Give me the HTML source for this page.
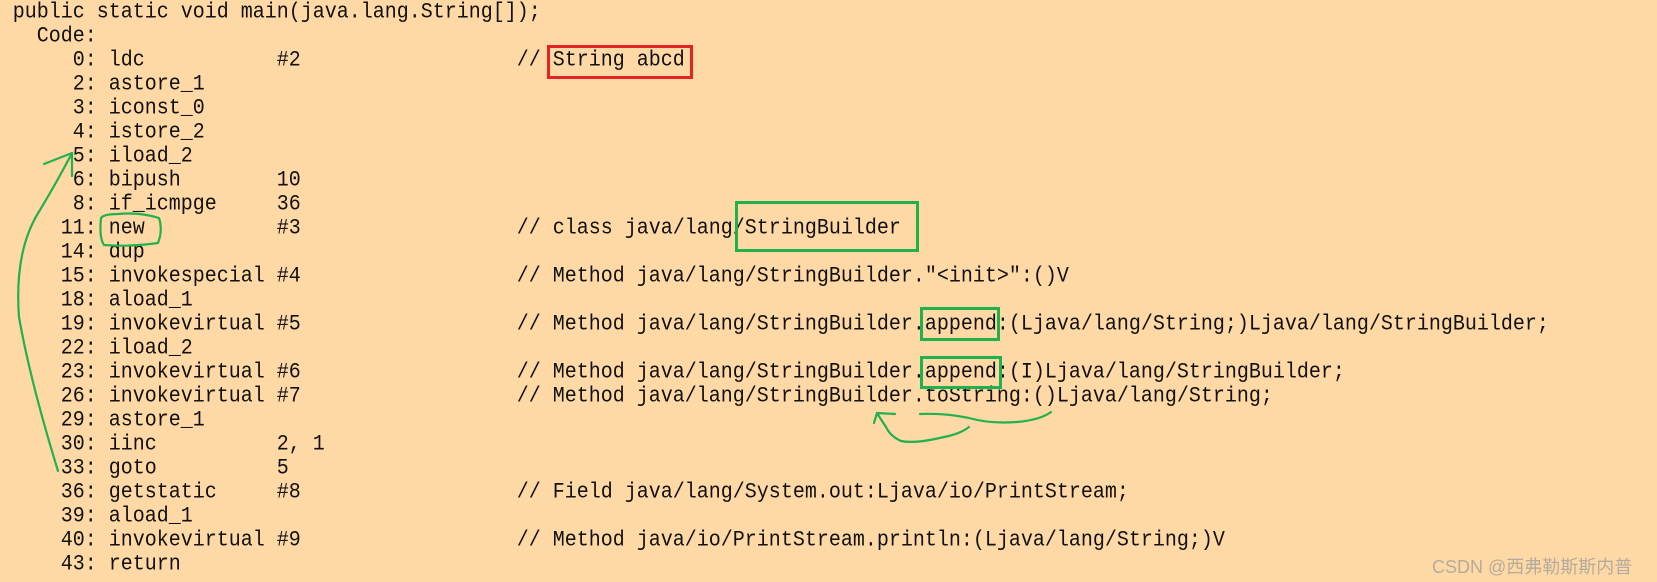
<!DOCTYPE html>
<html><head><meta charset="utf-8"><style>
html,body{margin:0;padding:0}
body{width:1657px;height:582px;background:#fed9a6;position:relative;overflow:hidden}
.l{position:absolute;left:12.7px;height:24px;line-height:24px;font-family:"Liberation Mono",monospace;font-size:20px;white-space:pre;color:#111;transform:scaleY(1.12);transform-origin:left center}
.b{position:absolute;box-sizing:border-box}
</style></head><body>
<div class="l" style="top:1px">public static void main(java.lang.String[]);</div>
<div class="l" style="top:25px">  Code:</div>
<div class="l" style="top:49px">     0: ldc           #2                  // String abcd</div>
<div class="l" style="top:73px">     2: astore_1</div>
<div class="l" style="top:97px">     3: iconst_0</div>
<div class="l" style="top:121px">     4: istore_2</div>
<div class="l" style="top:145px">     5: iload_2</div>
<div class="l" style="top:169px">     6: bipush        10</div>
<div class="l" style="top:193px">     8: if_icmpge     36</div>
<div class="l" style="top:217px">    11: new           #3                  // class java/lang/StringBuilder</div>
<div class="l" style="top:241px">    14: dup</div>
<div class="l" style="top:265px">    15: invokespecial #4                  // Method java/lang/StringBuilder."&lt;init&gt;":()V</div>
<div class="l" style="top:289px">    18: aload_1</div>
<div class="l" style="top:313px">    19: invokevirtual #5                  // Method java/lang/StringBuilder.append:(Ljava/lang/String;)Ljava/lang/StringBuilder;</div>
<div class="l" style="top:337px">    22: iload_2</div>
<div class="l" style="top:361px">    23: invokevirtual #6                  // Method java/lang/StringBuilder.append:(I)Ljava/lang/StringBuilder;</div>
<div class="l" style="top:385px">    26: invokevirtual #7                  // Method java/lang/StringBuilder.toString:()Ljava/lang/String;</div>
<div class="l" style="top:409px">    29: astore_1</div>
<div class="l" style="top:433px">    30: iinc          2, 1</div>
<div class="l" style="top:457px">    33: goto          5</div>
<div class="l" style="top:481px">    36: getstatic     #8                  // Field java/lang/System.out:Ljava/io/PrintStream;</div>
<div class="l" style="top:505px">    39: aload_1</div>
<div class="l" style="top:529px">    40: invokevirtual #9                  // Method java/io/PrintStream.println:(Ljava/lang/String;)V</div>
<div class="l" style="top:553px">    43: return</div>

<div class="b" style="left:547px;top:45px;width:146px;height:34px;border:3px solid #e42424"></div>
<div class="b" style="left:735px;top:201px;width:184px;height:51px;border:3px solid #1fb14a"></div>
<div class="b" style="left:920px;top:307px;width:80px;height:34px;border:3px solid #1fb14a"></div>
<div class="b" style="left:920px;top:356px;width:82px;height:33px;border:3px solid #1fb14a"></div>

<svg width="1657" height="582" style="position:absolute;left:0;top:0" fill="none" stroke="#22b14c" stroke-width="2.2" stroke-linecap="round" stroke-linejoin="round">
<path d="M101 218 Q99 238 104 245 Q130 247 158 243 Q163 230 159 218 Q140 212 118 214 Q104 214 101 218"/>
<path d="M58 471 Q30 380 19 317 Q14 250 40 210 Q58 180 72 153"/>
<path d="M44 164 L72 153 L72 176"/>
<path d="M1051 412 Q1040 420 1017 422 Q990 424 969 418 Q945 413 920 414"/>
<path d="M969 427 Q960 434 944 437 Q915 444 901 441 Q890 436 886 427 Q880 418 877 413"/>
<path d="M874 423 L877 413 L895 414"/>
</svg>
<div style="position:absolute;left:1432px;top:553px;font-family:'Liberation Sans','Noto Sans CJK SC',sans-serif;font-size:18px;color:#b5ab9c;white-space:nowrap">CSDN @西弗勒斯斯内普</div>
</body></html>
